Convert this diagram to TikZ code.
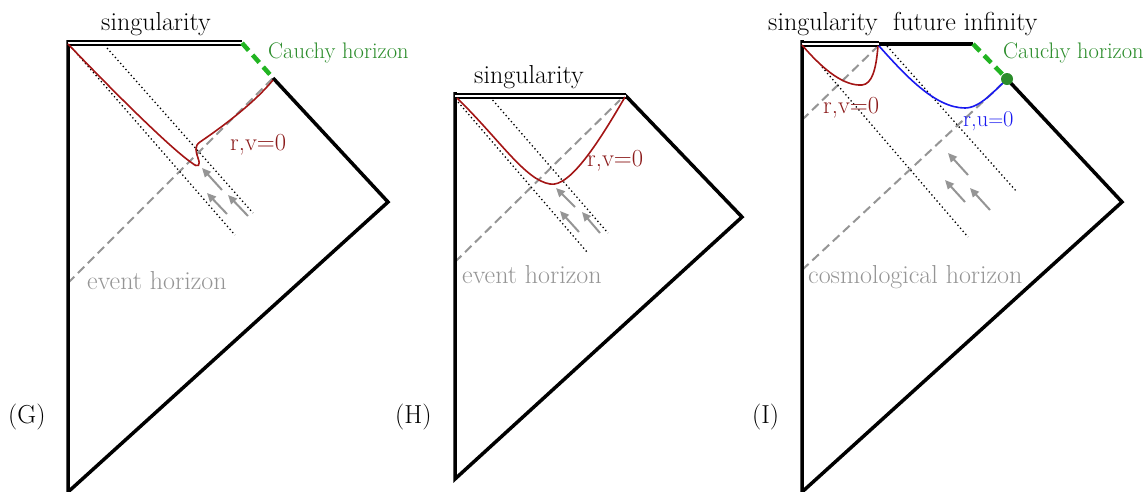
\documentclass[tikz,border=0pt]{standalone}
\usepackage{fontspec}
\usetikzlibrary{arrows.meta}
\definecolor{dred}{HTML}{A31515}
\definecolor{lred}{HTML}{8B1A1A}
\definecolor{hgreen}{HTML}{22B422}
\definecolor{tgreen}{HTML}{2A8C2A}
\definecolor{hblue}{HTML}{1A1AF0}
\definecolor{hgray}{HTML}{959595}
\tikzset{
  bnd/.style={line width=3.5pt, line join=miter},
  sing/.style={double=white, double distance=2.2pt, line width=1.8pt},
  fut/.style={line width=3.5pt},
  cauchy/.style={hgreen, line width=4.5pt, dash pattern=on 10pt off 6pt},
  hor/.style={hgray, line width=2pt, dash pattern=on 9pt off 5pt},
  dotl/.style={line width=1.3pt, dash pattern=on 1.3pt off 2.7pt},
  redc/.style={dred, line width=1.6pt},
  bluec/.style={hblue, line width=1.6pt},
  flow/.style={hgray, line width=2pt, -{Triangle[length=9pt,width=8pt]}},
  lab/.style={inner sep=0pt, anchor=base west, font=\fontsize{26}{30}\selectfont},
  glab/.style={lab, tgreen, font=\fontsize{22.5}{26}\selectfont},
  rlab/.style={lab, lred, font=\fontsize{24.5}{28}\selectfont},
}
\begin{document}
\begin{tikzpicture}[x=1pt,y=-1pt]
\useasboundingbox (0,0) rectangle (1143,491);

% ---------- (G) ----------
\draw[hor] (68,283) -- (273,78);
\draw[dotl] (72,48) -- (235,235);
\draw[dotl] (107,48) -- (253,213);
\draw[bnd] (68,40) -- (68,492) -- (388,202) -- (273,78);
\draw[sing] (68,43) -- (242,43);
\draw[cauchy] (242,43) -- (273,78);
\draw[redc] (68,44) .. controls (110,88) and (170,148) .. (192,163)
  .. controls (198,168) and (201,166) .. (198,158)
  .. controls (196,152) and (194,146) .. (200,142)
  .. controls (225,125) and (255,102) .. (273,80);
\coordinate (ga1s) at (222,190); \coordinate (ga1e) at (202,168);
\coordinate (ga2s) at (227,214); \coordinate (ga2e) at (207,193);
\coordinate (ga3s) at (248,216); \coordinate (ga3e) at (228,195);
\draw[flow] (ga1s) -- (ga1e);
\draw[flow] (ga2s) -- (ga2e);
\draw[flow] (ga3s) -- (ga3e);
\node[lab] (gsing) at (101,30) {singularity};
\node[glab] (gcau) at (268,58) {Cauchy horizon};
\node[rlab] (grv) at (230,150) {r,v$=$0};
\node[lab, hgray] (gev) at (87,289) {event horizon};
\node[lab] (gG) at (8,423) {(G)};

% ---------- (H) ----------
\draw[hor] (455,262) -- (620,100);
\draw[dotl] (458,102) -- (587,252);
\draw[dotl] (490,97) -- (608,233);
\draw[bnd] (455,92) -- (455,479) -- (742,217) -- (625,95);
\draw[sing] (455,96) -- (626,96);
\draw[redc] (457,98) .. controls (500,140) and (525,180) .. (550,184)
  .. controls (570,188) and (600,140) .. (625,97);
\coordinate (ha1s) at (575,207); \coordinate (ha1e) at (556,188);
\coordinate (ha2s) at (579,232); \coordinate (ha2e) at (560,211);
\coordinate (ha3s) at (600,233); \coordinate (ha3e) at (582,212);
\draw[flow] (ha1s) -- (ha1e);
\draw[flow] (ha2s) -- (ha2e);
\draw[flow] (ha3s) -- (ha3e);
\node[lab] (hsing) at (474,83) {singularity};
\node[rlab] (hrv) at (587,166) {r,v$=$0};
\node[lab, hgray] (hev) at (462,283) {event horizon};
\node[lab] (hH) at (395,423) {(H)};

% ---------- (I) ----------
\draw[hor] (802,270) -- (1002,84);
\draw[hor] (802,120) -- (878,46);
\draw[dotl] (822,67) -- (968,237);
\draw[dotl] (887,46) -- (1017,192);
\draw[bnd] (802,40) -- (802,492) -- (1122,202) -- (1007,79);
\draw[sing] (802,44) -- (879,44);
\draw[fut] (879,44) -- (973,44);
\draw[cauchy] (973,44) -- (1007,79);
\draw[redc] (802,45) .. controls (825,72) and (845,86) .. (862,85)
  .. controls (872,84) and (876,70) .. (878,46);
\draw[bluec] (879,46) .. controls (905,75) and (935,108) .. (965,108)
  .. controls (980,108) and (995,90) .. (1004,82);
\node[circle, fill=tgreen, inner sep=0pt, minimum size=12pt] (idot) at (1007,79) {};
\coordinate (ia1s) at (968,175); \coordinate (ia1e) at (948,153);
\coordinate (ia2s) at (965,202); \coordinate (ia2e) at (945,180);
\coordinate (ia3s) at (990,210); \coordinate (ia3e) at (970,188);
\draw[flow] (ia1s) -- (ia1e);
\draw[flow] (ia2s) -- (ia2e);
\draw[flow] (ia3s) -- (ia3e);
\node[lab] (ising) at (768,30) {singularity};
\node[lab] (ifut) at (893,30) {future infinity};
\node[glab] (icau) at (1003,58) {Cauchy horizon};
\node[rlab] (irv) at (823,113) {r,v$=$0};
\node[lab, hblue, font=\fontsize{22.5}{26}\selectfont] (iru) at (963,126) {r,u$=$0};
\node[lab, hgray] (icos) at (808,283) {cosmological horizon};
\node[lab] (iI) at (752,423) {(I)};
\end{tikzpicture}
\end{document}
